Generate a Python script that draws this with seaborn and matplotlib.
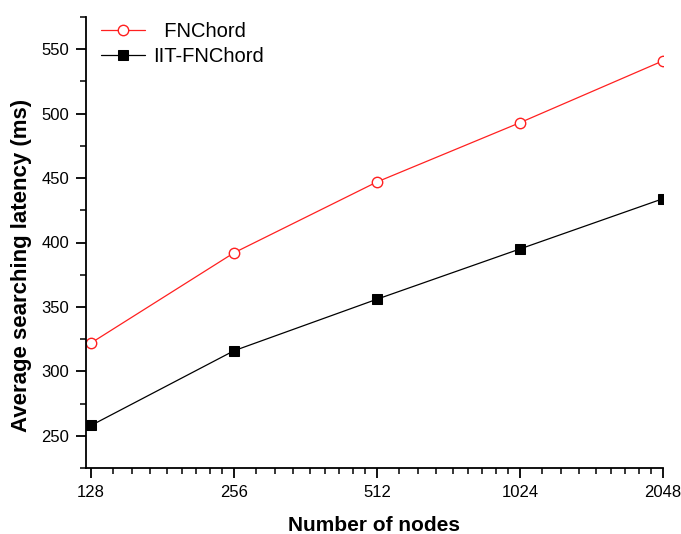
import numpy as np
import pandas as pd
import matplotlib
matplotlib.use("Agg")
import matplotlib.pyplot as plt
import seaborn as sns
from matplotlib.ticker import FixedLocator, NullFormatter

nodes = [128, 256, 512, 1024, 2048]
fnchord = [322, 392, 447, 493, 541]
iit_fnchord = [258, 316, 356, 395, 434]
x_tick_labels = ["128", "256", "512", "1024", "2048"]
y_ticks = [250, 300, 350, 400, 450, 500, 550]

sns.set_style("ticks")
plt.rcParams['font.family'] = ['Liberation Sans', 'DejaVu Sans']
plt.rcParams['text.color'] = 'black'
plt.rcParams['axes.labelcolor'] = 'black'
plt.rcParams['xtick.color'] = 'black'
plt.rcParams['ytick.color'] = 'black'

fig = plt.figure(figsize=(6.81, 5.34), dpi=100)
ax = fig.add_axes([86/681, 1-468/534, (663-86)/681, (468-17)/534])

df = pd.DataFrame({"nodes": nodes, "FNChord": fnchord, "IIT-FNChord": iit_fnchord})

sns.lineplot(data=df, x="nodes", y="FNChord", ax=ax, color="#ff2020", lw=0.9,
             marker="o", markersize=7.5, markerfacecolor="white", markeredgecolor="#ff2020",
             markeredgewidth=1.0, label="  FNChord")
sns.lineplot(data=df, x="nodes", y="IIT-FNChord", ax=ax, color="black", lw=0.9,
             marker="s", markersize=6.5, markerfacecolor="black", markeredgecolor="black",
             label="IIT-FNChord")

ax.set_xscale("log", base=2)
ax.set_xlim(128 * 2 ** (-5/143), 2048)
ax.set_ylim(225, 575)

ax.xaxis.set_major_locator(FixedLocator(nodes))
ax.set_xticklabels(x_tick_labels)
minor_x = [b * (1 + k/9) for b in nodes[:-1] for k in range(1, 9)]
ax.xaxis.set_minor_locator(FixedLocator(minor_x))
ax.xaxis.set_minor_formatter(NullFormatter())

ax.yaxis.set_major_locator(FixedLocator(y_ticks))
ax.yaxis.set_minor_locator(FixedLocator([225 + 50*k for k in range(8)]))
ax.yaxis.set_minor_formatter(NullFormatter())

sns.despine(ax=ax)
for s in ["left", "bottom"]:
    ax.spines[s].set_linewidth(1.3)
    ax.spines[s].set_color("black")
ax.tick_params(axis="both", which="major", direction="out", length=7, width=1.3,
               labelsize=12, colors="black", pad=5)
ax.tick_params(axis="both", which="minor", direction="out", length=4, width=1.1)
for lab in ax.get_xticklabels() + ax.get_yticklabels():
    lab.set_family(['Liberation Sans Narrow', 'Liberation Sans', 'DejaVu Sans'])

ax.set_xlabel("Number of nodes", fontsize=15, fontweight="bold", labelpad=12)
ax.set_ylabel("Average searching latency (ms)", fontsize=16, fontweight="bold")
ax.yaxis.set_label_coords(-0.094, 0.45)

leg = ax.legend(loc="upper left", bbox_to_anchor=(0.005, 1.015), frameon=False, fontsize=14.5,
                handlelength=2.2, handletextpad=0.4, labelspacing=0.3, borderaxespad=0.2)

fig.savefig("out.png", dpi=100)
